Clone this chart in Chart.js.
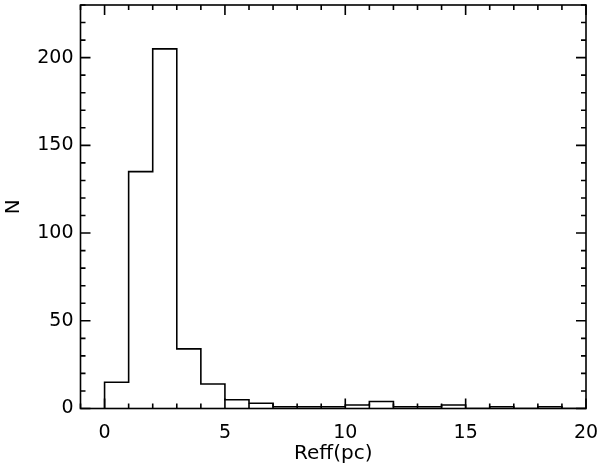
<!DOCTYPE html>
<html>
<head>
<meta charset="utf-8">
<script src="https://cdn.jsdelivr.net/npm/chart.js@4"></script>
<style>
  body { margin: 0; background: #fff; }
</style>
</head>
<body>
<canvas id="myGraph" width="600" height="469"></canvas>
<script>
// bordes izquierdos de cada bin (pc) y cuentas del histograma
const binEdges = [0, 1, 2, 3, 4, 5, 6, 7, 8, 9, 10, 11, 12, 13, 14, 15, 16, 17, 18, 19];
const counts   = [15, 135, 205, 34, 14, 5, 3, 1, 1, 1, 2, 4, 1, 1, 2, 0, 1, 0, 1, 0];
const binWidth = 1;
const xRange = [-1, 20];
const yRange = [0, 230];

// puntos para el trazo escalonado (estilo psym=10)
let steps = [{x: binEdges[0], y: 0}];
binEdges.forEach((e, i) => steps.push({x: e, y: counts[i]}));
steps.push({x: binEdges[binEdges.length - 1] + binWidth, y: counts[counts.length - 1]});

const fontFam = "'DejaVu Sans', sans-serif";

// ticks hacia adentro en los 4 lados + marco, como IDL
const idlFrame = {
    id: 'idlFrame',
    afterDraw(chart) {
        const {ctx, chartArea: a, scales: {x, y}} = chart;
        ctx.save();
        ctx.strokeStyle = '#000';
        ctx.lineWidth = 1.6;
        ctx.strokeRect(a.left, a.top, a.right - a.left, a.bottom - a.top);
        ctx.beginPath();
        for (let v = xRange[0]; v <= xRange[1]; v++) {
            const px = x.getPixelForValue(v);
            const len = (v % 5 === 0) ? 10 : 5;
            ctx.moveTo(px, a.bottom); ctx.lineTo(px, a.bottom - len);
            ctx.moveTo(px, a.top); ctx.lineTo(px, a.top + len);
        }
        for (let v = yRange[0]; v <= yRange[1]; v += 10) {
            const py = y.getPixelForValue(v);
            const len = (v % 50 === 0) ? 10 : 5;
            ctx.moveTo(a.left, py); ctx.lineTo(a.left + len, py);
            ctx.moveTo(a.right, py); ctx.lineTo(a.right - len, py);
        }
        ctx.stroke();
        ctx.restore();
    }
};

const ctx = document.getElementById('myGraph').getContext('2d');
const myGraph = new Chart(ctx, {
    type: 'line',
    data: {
        datasets: [{
            data: steps,
            stepped: 'before',
            borderColor: '#000',
            borderWidth: 1.6,
            pointRadius: 0,
            fill: false
        }]
    },
    options: {
        responsive: false,
        animation: false,
        layout: { padding: { top: 5, right: 14, left: 0, bottom: 0 } },
        plugins: { legend: { display: false }, tooltip: { enabled: false } },
        scales: {
            x: {
                type: 'linear',
                min: xRange[0],
                max: xRange[1],
                grid: { display: false, drawTicks: false },
                border: { display: false },
                ticks: {
                    stepSize: 5,
                    includeBounds: false,
                    padding: 13,
                    color: '#000',
                    font: { family: fontFam, size: 19 }
                },
                title: {
                    display: true,
                    text: 'Reff(pc)',
                    color: '#000',
                    padding: { top: 0, bottom: 3 },
                    font: { family: fontFam, size: 20 }
                },
                afterFit(scale) {
                    scale.height = 60.5;
                    scale.paddingLeft = 0;
                    scale.paddingRight = 0;
                }
            },
            y: {
                min: yRange[0],
                max: yRange[1],
                grid: { display: false, drawTicks: false },
                border: { display: false },
                ticks: {
                    stepSize: 50,
                    includeBounds: false,
                    padding: 7,
                    color: '#000',
                    font: { family: fontFam, size: 19 }
                },
                title: {
                    display: true,
                    text: 'N',
                    color: '#000',
                    padding: { top: 2, bottom: 0 },
                    font: { family: fontFam, size: 20 }
                },
                afterFit(scale) {
                    scale.width = 80.5;
                    scale.paddingTop = 0;
                    scale.paddingBottom = 0;
                }
            }
        }
    },
    plugins: [idlFrame]
});
</script>
</body>
</html>
